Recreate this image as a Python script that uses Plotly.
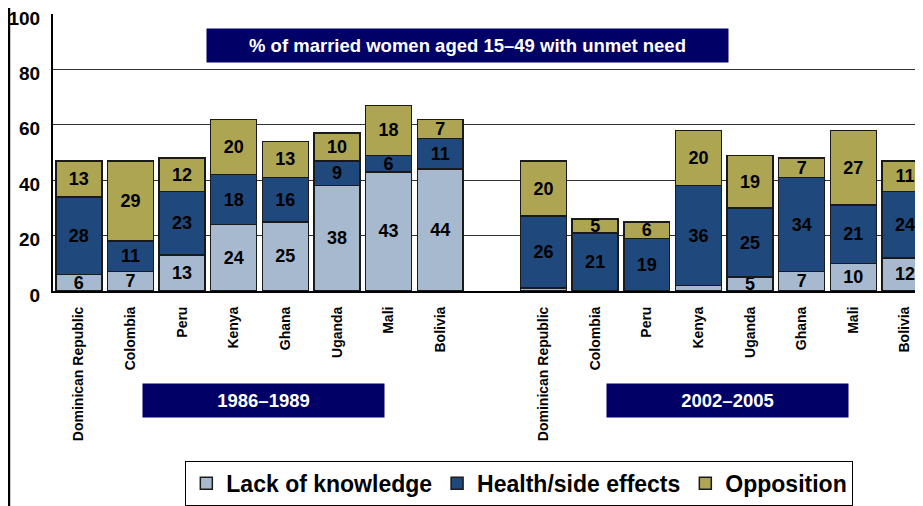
import plotly.graph_objects as go

COUNTRIES_1 = ["Dominican Republic", "Colombia", "Peru", "Kenya", "Ghana", "Uganda", "Mali", "Bolivia"]
COUNTRIES_2 = ["Dominican Republic", "Colombia", "Peru", "Kenya", "Uganda", "Ghana", "Mali", "Bolivia"]

LACK_1 = [6, 7, 13, 24, 25, 38, 43, 44]
HEALTH_1 = [28, 11, 23, 18, 16, 9, 6, 11]
OPPOSITION_1 = [13, 29, 12, 20, 13, 10, 18, 7]

LACK_2 = [1, 0, 0, 2, 5, 7, 10, 12]
HEALTH_2 = [26, 21, 19, 36, 25, 34, 21, 24]
OPPOSITION_2 = [20, 5, 6, 20, 19, 7, 27, 11]

Y_TICKS = [0, 20, 40, 60, 80, 100]

COR_LACK = "#A7B9CE"
COR_HEALTH = "#1F497D"
COR_OPP = "#ADA552"
COR_NAVY = "#000066"
FONTE = "Liberation Sans"

# posicoes: grupo 1 em 0..7, vazio em 8, grupo 2 em 9..16
x_pos = list(range(8)) + list(range(9, 17))
rotulos = COUNTRIES_1 + COUNTRIES_2


def rotulos_texto(valores):
    return [str(v) if v >= 5 else "" for v in valores]


series = [
    ("Lack of knowledge", LACK_1 + LACK_2, COR_LACK),
    ("Health/side effects", HEALTH_1 + HEALTH_2, COR_HEALTH),
    ("Opposition", OPPOSITION_1 + OPPOSITION_2, COR_OPP),
]

fig = go.Figure()
for nome, valores, cor in series:
    fig.add_trace(go.Bar(
        x=x_pos,
        y=valores,
        name=nome,
        width=0.89,
        marker=dict(color=cor, line=dict(color="#1a1a1a", width=1.5)),
        text=rotulos_texto(valores),
        textposition="inside",
        insidetextanchor="middle",
        textangle=0,
        constraintext="none",
        textfont=dict(family=FONTE, size=18, color="black", weight="bold"),
        hoverinfo="skip",
    ))

# a pagina tem margem de 8px no body, por isso a figura e um pouco menor
fig.update_layout(
    width=915,
    height=498,
    barmode="stack",
    paper_bgcolor="white",
    plot_bgcolor="white",
    margin=dict(l=45, r=0, t=6, b=211),
    font=dict(family=FONTE, color="black"),
    xaxis=dict(
        range=[-0.5, 16.35],
        tickvals=x_pos,
        ticktext=rotulos,
        tickangle=-90,
        tickfont=dict(size=14, weight="bold", color="black"),
        ticks="outside",
        ticklen=8,
        tickcolor="rgba(0,0,0,0)",
        showgrid=False,
        showline=True,
        linecolor="black",
        linewidth=2,
        zeroline=False,
        automargin=False,
    ),
    yaxis=dict(
        range=[0, 100],
        tickvals=Y_TICKS,
        tickfont=dict(size=19, weight="bold", color="black"),
        ticks="outside",
        ticklen=7,
        tickcolor="rgba(0,0,0,0)",
        ticklabeloverflow="allow",
        ticklabelshift=4,
        showgrid=True,
        gridcolor="#333333",
        gridwidth=1,
        showline=True,
        linecolor="black",
        linewidth=2,
        zeroline=False,
        automargin=False,
    ),
    legend=dict(
        orientation="h",
        x=0.536,
        xanchor="center",
        y=-0.775,
        yanchor="bottom",
        bgcolor="white",
        bordercolor="black",
        borderwidth=1,
        font=dict(size=23, weight="bold", color="black"),
        traceorder="normal",
        itemclick=False,
    ),
    showlegend=True,
)

# caixas de titulo
caixas = [
    ("% of married women aged 15\u201349 with unmet need", 0.476, 0.888, 521),
    ("1986\u20131989", 0.242, -0.394, 241),
    ("2002\u20132005", 0.775, -0.394, 241),
]
for texto, cx, cy, largura in caixas:
    fig.add_annotation(
        text=texto,
        xref="paper", yref="paper",
        x=cx, y=cy,
        xanchor="center", yanchor="middle",
        showarrow=False,
        bgcolor=COR_NAVY,
        width=largura,
        height=33,
        borderpad=0,
        font=dict(size=18.5, color="white", weight="bold"),
    )

# linha vertical na borda esquerda
fig.add_shape(
    type="line", xref="paper", yref="paper",
    x0=-0.0506, x1=-0.0506, y0=1.03, y1=-0.78,
    line=dict(color="black", width=2.5),
)

fig.write_html("out.html")
